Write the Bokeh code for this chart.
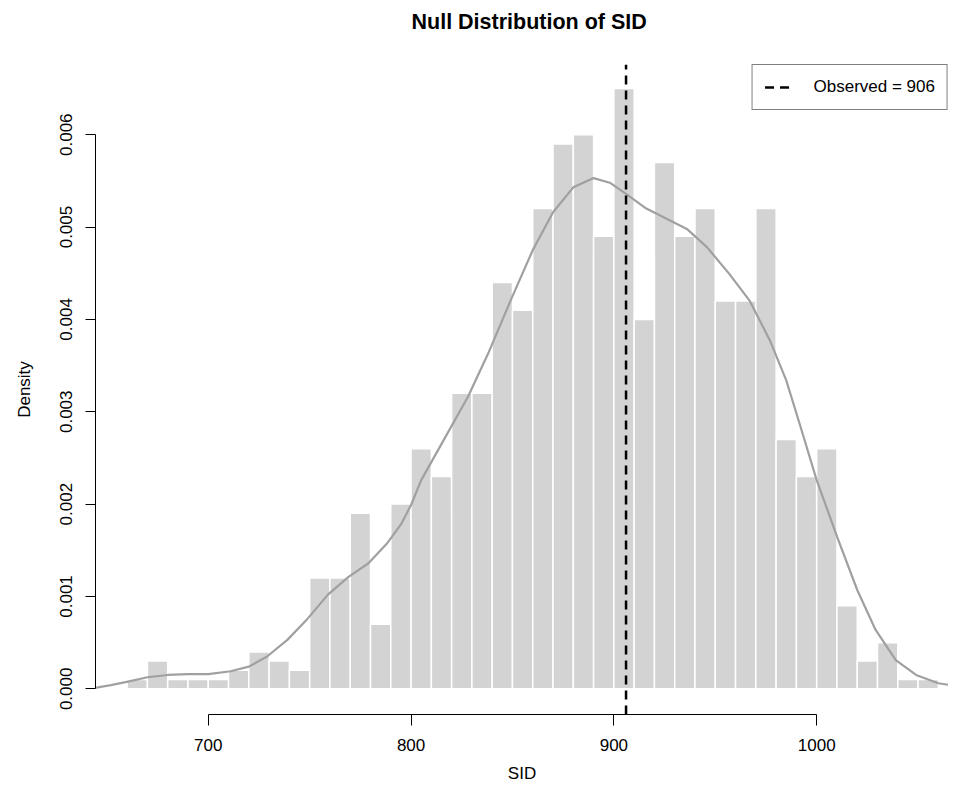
from bokeh.plotting import figure
from bokeh.models import Range1d, FixedTicker, Legend, LegendItem, PrintfTickFormatter
from bokeh.embed import file_html
from bokeh.resources import INLINE

# ---- data ----
bin_edges = [660, 670, 680, 690, 700, 710, 720, 730, 740, 750, 760, 770, 780, 790,
             800, 810, 820, 830, 840, 850, 860, 870, 880, 890, 900, 910, 920, 930,
             940, 950, 960, 970, 980, 990, 1000, 1010, 1020, 1030, 1040, 1050, 1060]
bar_density = [0.0001, 0.0003, 0.0001, 0.0001, 0.0001, 0.0002, 0.0004, 0.0003, 0.0002,
               0.0012, 0.0012, 0.0019, 0.0007, 0.0020, 0.0026, 0.0023, 0.0032, 0.0032,
               0.0044, 0.0041, 0.0052, 0.0059, 0.0060, 0.0049, 0.0065, 0.0040, 0.0057,
               0.0049, 0.0052, 0.0042, 0.0042, 0.0052, 0.0027, 0.0023, 0.0026, 0.0009,
               0.0003, 0.0005, 0.0001, 0.0001]

dens_x = [644, 652, 661, 670, 680, 690, 700, 711, 720, 729, 739, 749, 759, 769, 779,
          788, 795, 800, 805, 816, 828, 838, 849, 860, 870, 880, 890, 898, 906, 916,
          926, 936, 946, 957, 967, 977, 985, 992, 1000, 1010, 1020, 1029, 1039, 1049,
          1060, 1072]
dens_y = [0.00001, 0.00004, 0.00008, 0.000125, 0.00015, 0.00016, 0.00016, 0.00019,
          0.00024, 0.00035, 0.00053, 0.00076, 0.00102, 0.00121, 0.00136, 0.00157,
          0.00178, 0.00199, 0.00226, 0.00269, 0.00316, 0.00363, 0.00420, 0.00475,
          0.00516, 0.00543, 0.00553, 0.00548, 0.00536, 0.00520, 0.00509, 0.00498,
          0.00478, 0.00449, 0.00420, 0.00377, 0.00334, 0.00284, 0.00226, 0.00165,
          0.00107, 0.00064, 0.00031, 0.00015, 0.00006, 0.00002]

observed = 906
observed_label = "Observed = 906"
x_ticks = [700, 800, 900, 1000]
y_ticks = [0.000, 0.001, 0.002, 0.003, 0.004, 0.005, 0.006]
title_text = "Null Distribution of SID"
x_label = "SID"
y_label = "Density"

FONT = "Liberation Sans"

xr = Range1d(644.4, 1065.0)
yr = Range1d(-0.000278, 0.00676)

p = figure(width=948, height=786, output_backend="svg", toolbar_location=None,
           x_range=xr, y_range=yr,
           min_border_left=95, min_border_right=0, min_border_top=63, min_border_bottom=72,
           background_fill_color="white", border_fill_color="white")
p.outline_line_color = None
p.grid.visible = False

# trailing line break reserves room so the title sits high above the plot, as in R
p.title.text = title_text + "\n"
p.title.text_font = FONT
p.title.text_font_size = "21.5px"
p.title.text_font_style = "bold"
p.title.align = "left"
p.title.offset = 316
p.title.standoff = 14
p.title.text_color = "black"

p.quad(left=bin_edges[:-1], right=bin_edges[1:], bottom=0, top=bar_density,
       fill_color="#d3d3d3", line_color="white", line_width=1.5)

p.line(dens_x, dens_y, line_color="#a0a0a0", line_width=2.2)

obs_line = p.line(x=[observed, observed], y=[yr.start, yr.end], line_color="black",
                  line_width=2.5, line_dash="9 6")

legend = Legend(items=[LegendItem(label=observed_label, renderers=[obs_line])],
                location="top_right")
legend.margin = 0
legend.padding = 12
legend.glyph_width = 27
legend.label_standoff = 22
legend.border_line_color = "black"
legend.border_line_width = 1
legend.label_text_font = FONT
legend.label_text_font_size = "17px"
legend.label_text_color = "black"
legend.background_fill_color = "white"
legend.background_fill_alpha = 1.0
p.add_layout(legend)

for ax in (p.xaxis[0], p.yaxis[0]):
    ax.axis_line_color = "black"
    ax.major_tick_line_color = "black"
    ax.minor_tick_line_color = None
    ax.major_tick_in = 0
    ax.major_label_text_font = FONT
    ax.major_label_text_font_size = "17px"
    ax.major_label_text_color = "black"
    ax.axis_label_text_font = FONT
    ax.axis_label_text_font_size = "17px"
    ax.axis_label_text_font_style = "normal"
    ax.axis_label_text_color = "black"

xa = p.xaxis[0]
xa.ticker = FixedTicker(ticks=x_ticks)
xa.bounds = (x_ticks[0], x_ticks[-1])
xa.major_tick_out = 11
xa.major_label_standoff = 13
xa.axis_label = x_label
xa.axis_label_standoff = 10

ya = p.yaxis[0]
ya.ticker = FixedTicker(ticks=y_ticks)
ya.bounds = (y_ticks[0], y_ticks[-1])
ya.formatter = PrintfTickFormatter(format="%.3f")
ya.major_label_orientation = "vertical"
ya.major_tick_out = 10
ya.major_label_standoff = 13
ya.axis_label = y_label
ya.axis_label_standoff = 24

open("out.html", "w").write(file_html(p, INLINE))
